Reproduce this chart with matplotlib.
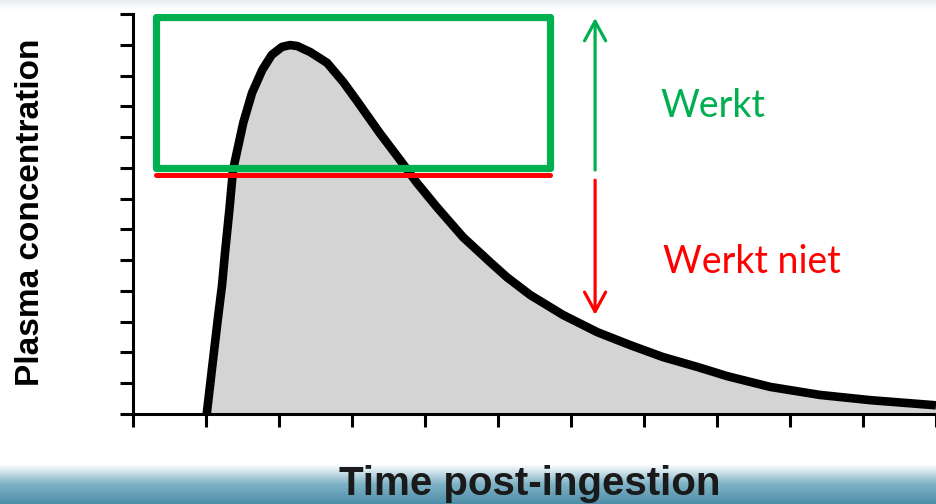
import matplotlib
matplotlib.use("Agg")
import matplotlib.pyplot as plt
import matplotlib.patches as patches
from matplotlib.colors import LinearSegmentedColormap
import numpy as np

# Curve (x: time ticks, y: concentration ticks)
time = [1.01, 1.08, 1.16, 1.22, 1.26, 1.32, 1.37, 1.51, 1.63, 1.77, 1.90,
        2.04, 2.15, 2.25, 2.43, 2.66, 2.88, 3.07, 3.38, 3.66, 3.89, 4.16,
        4.52, 4.89, 5.12, 5.44, 5.89, 6.36, 6.81, 7.26, 7.73, 8.14, 8.73,
        9.41, 10.10, 10.96, 11.0]
conc = [0.00, 1.43, 3.05, 4.19, 5.23, 6.63, 7.93, 9.46, 10.43, 11.18, 11.67,
        11.93, 11.99, 11.96, 11.76, 11.41, 10.79, 10.17, 9.13, 8.25, 7.51, 6.73,
        5.75, 4.94, 4.45, 3.87, 3.22, 2.66, 2.24, 1.85, 1.53, 1.23, 0.88,
        0.62, 0.45, 0.29, 0.28]

x_ticks = list(range(0, 12))
y_ticks = list(range(0, 14))

threshold = 8.0       # bottom of the "works" window
window_top = 12.9
window_x = [0.32, 5.71]
red_line_y = 7.77
arrow_x = 6.33

GREEN = "#00b050"
RED = "#ff0000"

fig = plt.figure(figsize=(9.36, 5.04), dpi=100)
fig.patch.set_facecolor("white")

# bottom blue band
band = fig.add_axes([0, 0, 1, 40 / 504])
grad = np.linspace(0, 1, 64).reshape(-1, 1)
cmap = LinearSegmentedColormap.from_list("band", ["#4f8ea8", "#7fb2c6", "#ffffff"])
band.imshow(grad, aspect="auto", cmap=cmap, origin="lower", extent=[0, 1, 0, 1])
band.axis("off")

# faint band at top
topband = fig.add_axes([0, 1 - 10 / 504, 1, 10 / 504])
cmap2 = LinearSegmentedColormap.from_list("top", ["#ffffff", "#e6edf1"])
topband.imshow(grad, aspect="auto", cmap=cmap2, origin="lower", extent=[0, 1, 0, 1])
topband.axis("off")

ax = fig.add_axes([133 / 936, 90 / 504, 1 - 133 / 936, 400 / 504])
ax.set_facecolor("none")
ax.set_xlim(0, 11)
ax.set_ylim(0, 13)

ax.fill_between(time, conc, 0, color="#d4d4d4", zorder=1)
ax.plot(time, conc, color="black", lw=6.2, solid_joinstyle="round",
        solid_capstyle="butt", zorder=2)

# axes styling
for s in ["top", "right"]:
    ax.spines[s].set_visible(False)
for s in ["left", "bottom"]:
    ax.spines[s].set_linewidth(2.2)
    ax.spines[s].set_zorder(3)
ax.set_xticks(x_ticks)
ax.set_yticks(y_ticks)
ax.tick_params(axis="both", direction="out", length=9.5, width=2.2,
               labelbottom=False, labelleft=False)

# window of effect
rect = patches.Rectangle((window_x[0], threshold), window_x[1] - window_x[0],
                         window_top - threshold, fill=False, ec=GREEN, lw=5.2,
                         joinstyle="round", zorder=4)
ax.add_patch(rect)
ax.plot(window_x, [red_line_y, red_line_y], color=RED, lw=3.6,
        solid_capstyle="round", zorder=4)

up = patches.FancyArrowPatch((arrow_x, 7.93), (arrow_x, 12.87),
                             arrowstyle="->,head_length=0.7,head_width=0.38",
                             mutation_scale=20, color=GREEN, lw=2.3,
                             shrinkA=0, shrinkB=0, zorder=4)
down = patches.FancyArrowPatch((arrow_x, 7.6), (arrow_x, 3.22),
                               arrowstyle="->,head_length=0.7,head_width=0.38",
                               mutation_scale=20, color=RED, lw=2.3,
                               shrinkA=0, shrinkB=0, zorder=4)
ax.add_patch(up)
ax.add_patch(down)

ax.text(7.22, 9.65, "Werkt", color=GREEN, fontsize=27, family="Lato",
        va="baseline", ha="left")
ax.text(7.26, 4.58, "Werkt niet", color=RED, fontsize=27, family="Lato",
        va="baseline", ha="left")

fig.text(31 / 936, 1 - 212 / 504, "Plasma concentration", rotation=90,
         fontsize=24, fontweight="bold", family="Liberation Sans",
         ha="center", va="center", color="black")
fig.text(530 / 936, 9 / 504, "Time post-ingestion", fontsize=29,
         fontweight="bold", family="Liberation Sans", ha="center",
         va="baseline", color="#1a1a1a")

fig.savefig("out.png", dpi=100, facecolor="white")
